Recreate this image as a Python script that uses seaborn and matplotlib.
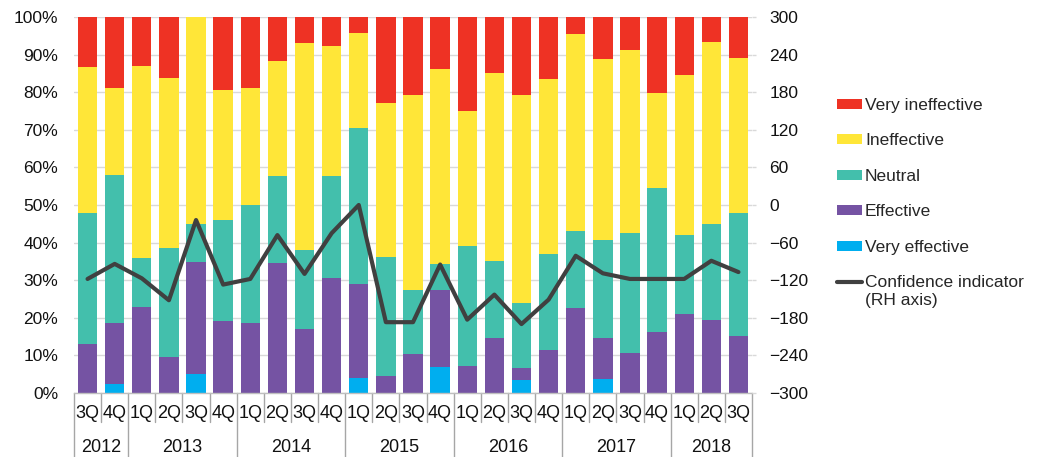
import numpy as np
import pandas as pd
import matplotlib
matplotlib.use("Agg")
import matplotlib.pyplot as plt
from matplotlib.patches import Patch
from matplotlib.lines import Line2D
from matplotlib.legend_handler import HandlerLine2D
from matplotlib.transforms import blended_transform_factory
import seaborn as sns

sns.set_style("white")
plt.rcParams["font.family"] = ["Liberation Sans", "DejaVu Sans"]
plt.rcParams["font.size"] = 12.5

# ---- data -----------------------------------------------------------------
quarters = ["3Q", "4Q",
            "1Q", "2Q", "3Q", "4Q",
            "1Q", "2Q", "3Q", "4Q",
            "1Q", "2Q", "3Q", "4Q",
            "1Q", "2Q", "3Q", "4Q",
            "1Q", "2Q", "3Q", "4Q",
            "1Q", "2Q", "3Q"]
years = ["2012"] * 2 + ["2013"] * 4 + ["2014"] * 4 + ["2015"] * 4 + \
        ["2016"] * 4 + ["2017"] * 4 + ["2018"] * 3

very_effective = [0, 2.3, 0, 0, 5.0, 0, 0, 0, 0, 0, 4.1, 0, 0, 6.8, 0, 0,
                  3.4, 0, 0, 3.6, 0, 0, 0, 0, 0]
effective = [13.1, 16.3, 23.0, 9.6, 29.9, 19.1, 18.6, 34.5, 17.1, 30.6,
             24.8, 4.4, 10.3, 20.6, 7.1, 14.6, 3.3, 11.5, 22.7, 11.0,
             10.6, 16.2, 21.1, 19.3, 15.1]
neutral = [34.7, 39.5, 12.8, 29.0, 10.0, 26.9, 31.3, 23.1, 20.8, 27.0,
           41.7, 31.9, 17.1, 6.9, 32.0, 20.6, 17.3, 25.6, 20.4, 26.0,
           31.9, 38.2, 21.0, 25.7, 32.7]
ineffective = [39.0, 23.1, 51.2, 45.1, 55.1, 34.6, 31.3, 30.7, 55.1, 34.6,
               25.1, 40.8, 51.8, 51.8, 35.8, 50.0, 55.2, 46.5, 52.3, 48.2,
               48.8, 25.4, 42.6, 48.4, 41.2]
very_ineffective = [13.2, 18.8, 13.0, 16.3, 0.0, 19.4, 18.8, 11.7, 7.0, 7.8,
                    4.3, 22.9, 20.8, 13.9, 25.1, 14.8, 20.8, 16.4, 4.6, 11.2,
                    8.7, 20.2, 15.3, 6.6, 11.0]
confidence = [-118, -94, -117, -152, -24, -127, -118, -48, -110, -45,
              0, -187, -187, -95, -183, -143, -190, -151, -81, -109,
              -118, -118, -118, -89, -107]

series_names = ["Very effective", "Effective", "Neutral", "Ineffective",
                "Very ineffective"]
series_values = [very_effective, effective, neutral, ineffective,
                 very_ineffective]
series_colors = ["#00AEEF", "#7553A3", "#43BFAC", "#FFE638", "#EE3224"]
line_color = "#404040"

# ---- figure ---------------------------------------------------------------
W, H = 1046, 457
fig = plt.figure(figsize=(W / 100, H / 100), dpi=100)
ax = fig.add_axes([74 / W, 1 - 393 / H, (752 - 74) / W, (393 - 17) / H])

n = len(quarters)
periods = [f"{q} {y}" for q, y in zip(quarters, years)]
cum = np.cumsum(np.array(series_values), axis=0)

# stacked bars: draw cumulative totals from the top layer downwards
for k in range(len(series_values) - 1, -1, -1):
    df = pd.DataFrame({"period": periods, "total": cum[k]})
    sns.barplot(data=df, x="period", y="total", order=periods,
                color=series_colors[k], saturation=1, width=0.714,
                linewidth=0, edgecolor="none", errorbar=None, ax=ax)

ax.set_xlim(-0.5, n - 0.5)
ax.set_ylim(0, 100)
ax.set_yticks(np.arange(0, 101, 10))
ax.set_yticklabels([f"{v}%" for v in range(0, 101, 10)])
ax.set_axisbelow(True)
ax.grid(axis="y", color="#D9D9D9", linewidth=1)
ax.grid(axis="x", visible=False)
ax.set_xlabel("")
ax.set_ylabel("")
ax.set_xticks([])
for s in ["left", "right", "top"]:
    ax.spines[s].set_visible(False)
ax.spines["bottom"].set_color("#BFBFBF")
ax.spines["bottom"].set_linewidth(1)
ax.tick_params(axis="y", length=0, pad=11.5, labelsize=12.5, colors="#111111")

# confidence indicator on the right-hand axis
ax2 = ax.twinx()
sns.lineplot(x=np.arange(n), y=confidence, color=line_color, linewidth=3,
             ax=ax2, zorder=5)
ax2.set_ylim(-300, 300)
ax2.set_yticks(np.arange(-300, 301, 60))
ax2.set_xlim(-0.5, n - 0.5)
for s in ["left", "right", "top", "bottom"]:
    ax2.spines[s].set_visible(False)
ax2.tick_params(axis="y", length=3, width=1, pad=9.5, labelsize=12.5,
                colors="#D9D9D9", labelcolor="#111111")

# two-level category axis
tr = blended_transform_factory(ax.transData, ax.transAxes)
ax_h = 393 - 17
q_y = -(413 - 393) / ax_h
y_y = -(447 - 393) / ax_h
short_sep = -(422 - 393) / ax_h
long_sep = -(457 - 393) / ax_h

for i, q in enumerate(quarters):
    ax.text(i, q_y, q, transform=tr, ha="center", va="center",
            fontsize=13, color="#111111")

year_starts = [i for i in range(n) if i == 0 or years[i] != years[i - 1]]
year_bounds = set([b - 0.5 for b in year_starts] + [n - 0.5])
for i in range(n + 1):
    xb = i - 0.5
    y_end = long_sep if xb in year_bounds else short_sep
    ax.plot([xb, xb], [0, y_end], transform=tr, color="#A6A6A6",
            linewidth=1, clip_on=False)

for j, s in enumerate(year_starts):
    e = year_starts[j + 1] - 1 if j + 1 < len(year_starts) else n - 1
    ax.text((s + e) / 2, y_y, years[s], transform=tr, ha="center",
            va="center", fontsize=13, color="#111111")


# legend
class UpperLineHandler(HandlerLine2D):
    def create_artists(self, legend, orig_handle, xdescent, ydescent,
                       width, height, fontsize, trans):
        arts = super().create_artists(legend, orig_handle, xdescent,
                                      ydescent, width, height, fontsize,
                                      trans)
        for a in arts:
            a.set_ydata(np.asarray(a.get_ydata()) + 0.58 * fontsize)
        return arts


handles = [Patch(facecolor=series_colors[k], edgecolor="none",
                 label=series_names[k])
           for k in range(len(series_names) - 1, -1, -1)]
conf_handle = Line2D([0], [0], color=line_color, linewidth=3,
                     label="Confidence indicator\n(RH axis)")
handles.append(conf_handle)

fig.legend(handles=handles, loc="upper left",
           bbox_to_anchor=(837 / W, 1 - 98 / H),
           bbox_transform=fig.transFigure, frameon=False,
           fontsize=12.5, handlelength=1.44, handleheight=0.52,
           handletextpad=0.18, labelspacing=1.18, borderpad=0,
           borderaxespad=0,
           handler_map={conf_handle: UpperLineHandler()})

fig.savefig("out.png", dpi=100)
